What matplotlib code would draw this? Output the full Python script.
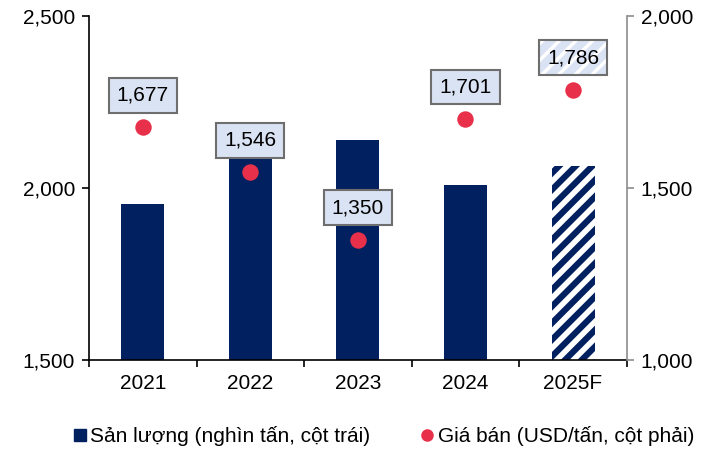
import matplotlib
matplotlib.use("Agg")
import matplotlib.pyplot as plt
from matplotlib.lines import Line2D
import numpy as np

plt.rcParams['font.family'] = ['Liberation Sans', 'DejaVu Sans']

categories = ["2021", "2022", "2023", "2024", "2025F"]
output_tons = [1953, 2092, 2140, 2009, 2064]
price_usd = [1677, 1546, 1350, 1701, 1786]
price_labels = ["1,677", "1,546", "1,350", "1,701", "1,786"]
left_ticks = [1500, 2000, 2500]
right_ticks = [1000, 1500, 2000]

NAVY = "#002060"
RED = "#E8304A"
BOXFILL = "#DAE3F3"
BOXEDGE = "#6E6E6E"
FS = 15

fig = plt.figure(figsize=(7.23, 4.57), dpi=100)
ax = fig.add_axes([0.123, 0.212, 0.744, 0.753])
x = np.arange(len(categories))

plt.rcParams['hatch.linewidth'] = 4.0
for i, v in enumerate(output_tons):
    if categories[i].endswith("F"):
        ax.bar(x[i], v - 1500, bottom=1500, width=0.4, color=NAVY,
               edgecolor="white", hatch="//", linewidth=0, zorder=2)
    else:
        ax.bar(x[i], v - 1500, bottom=1500, width=0.4, color=NAVY,
               linewidth=0, zorder=2)

ax.set_xlim(-0.5, len(categories) - 0.5)
ax.set_ylim(1500, 2500)
ax.set_yticks(left_ticks)
ax.set_yticklabels([f"{t:,}" for t in left_ticks], fontsize=FS)
ax.set_xticks(x)
ax.set_xticklabels(categories, fontsize=FS)
ax.tick_params(axis='x', length=0, pad=10)
ax.set_xticks(np.arange(-0.5, len(categories)), minor=True)
ax.tick_params(axis='x', which='minor', length=5, width=1.2, direction='out', color='black')
ax.tick_params(axis='y', length=5, width=1.2, direction='out', pad=5)
ax.spines['top'].set_visible(False)
ax.spines['right'].set_visible(False)
ax.spines['left'].set_linewidth(1.2)
ax.spines['bottom'].set_linewidth(1.2)

ax2 = ax.twinx()
ax2.set_ylim(1000, 2000)
ax2.set_yticks(right_ticks)
ax2.set_yticklabels([f"{t:,}" for t in right_ticks], fontsize=FS)
ax2.tick_params(axis='y', length=5, width=1.2, direction='out', color='#8C8C8C', pad=5)
for s in ['top', 'left', 'bottom']:
    ax2.spines[s].set_visible(False)
ax2.spines['right'].set_color('#8C8C8C')
ax2.spines['right'].set_linewidth(1.2)

ax2.scatter(x, price_usd, s=140, color=RED, zorder=5, linewidths=0)

plt.rcParams['hatch.linewidth'] = 2.5
for i, (v, lab) in enumerate(zip(price_usd, price_labels)):
    hatched = categories[i].endswith("F")
    if hatched:
        ax2.annotate(lab, (x[i], v), xytext=(0, 23), textcoords='offset points',
                     ha='center', va='center', fontsize=FS, color=(0, 0, 0, 0), zorder=6,
                     bbox=dict(boxstyle='square,pad=0.38', facecolor=BOXFILL,
                               edgecolor='white', hatch='//', linewidth=0))
        ax2.annotate(lab, (x[i], v), xytext=(0, 23), textcoords='offset points',
                     ha='center', va='center', fontsize=FS, color='black', zorder=7,
                     bbox=dict(boxstyle='square,pad=0.38', facecolor='none',
                               edgecolor=BOXEDGE, linewidth=1.5))
    else:
        ax2.annotate(lab, (x[i], v), xytext=(0, 23), textcoords='offset points',
                     ha='center', va='center', fontsize=FS, color='black', zorder=7,
                     bbox=dict(boxstyle='square,pad=0.38', facecolor=BOXFILL,
                               edgecolor=BOXEDGE, linewidth=1.5))

handles = [
    Line2D([0], [0], marker='s', linestyle='none', markersize=8, color=NAVY),
    Line2D([0], [0], marker='o', linestyle='none', markersize=8, color=RED),
]
fig.legend(handles, ["Sản lượng (nghìn tấn, cột trái)", "Giá bán (USD/tấn, cột phải)"],
           loc='center', bbox_to_anchor=(0.53, 0.045), ncol=2, frameon=False,
           fontsize=FS, handletextpad=0.15, columnspacing=2.4, handlelength=0.7)

fig.savefig("out.png", dpi=100)
